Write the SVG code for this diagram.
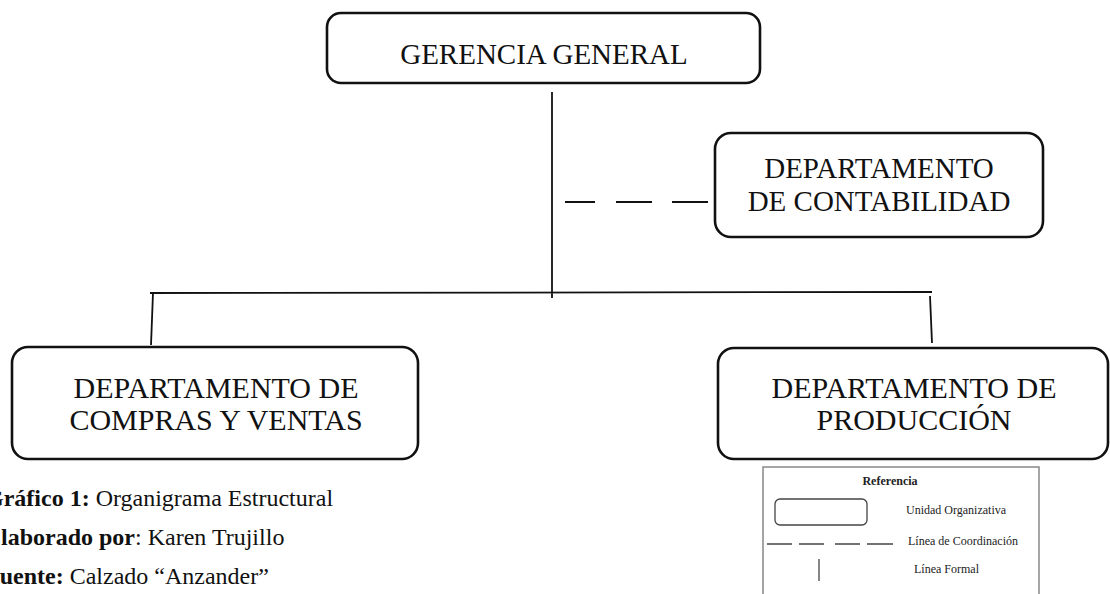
<svg xmlns="http://www.w3.org/2000/svg" width="1110" height="594" viewBox="0 0 1110 594">
<style>
.box{fill:#fff;stroke:#111;stroke-width:2.6}
.t{font-family:"Liberation Serif","Times New Roman",serif;font-size:29px;fill:#111;text-anchor:middle}
.t2{font-size:30px}
.ln{stroke:#111;stroke-width:1.8;fill:none}
.cap{font-family:"Liberation Serif","Times New Roman",serif;font-size:24px;fill:#111}
.lg{font-family:"Liberation Serif","Times New Roman",serif;font-size:12px;fill:#222}
.lgl{stroke:#444;stroke-width:1.3;fill:none}
</style>
<rect width="1110" height="594" fill="#fff"/>
<g id="connectors">
<path class="ln" d="M552 92 V298"/>
<path class="ln" d="M150 293 L932 292"/>
<path class="ln" d="M153 293 L151 345"/>
<path class="ln" d="M930 296 L932 343"/>
<path class="ln" d="M565 202 H595 M616 202 H652 M672 202 H708"/>
</g>
<g id="gerencia">
<rect class="box" x="327" y="13" width="433" height="70" rx="14"/>
<text class="t" x="544" y="64">GERENCIA GENERAL</text>
</g>
<g id="contabilidad">
<rect class="box" x="715" y="133" width="328" height="104" rx="16"/>
<text class="t" x="879" y="178">DEPARTAMENTO</text>
<text class="t" x="879" y="211">DE CONTABILIDAD</text>
</g>
<g id="compras">
<rect class="box" x="12" y="347" width="406" height="112" rx="16"/>
<text class="t t2" x="216" y="398">DEPARTAMENTO DE</text>
<text class="t t2" x="216" y="430">COMPRAS Y VENTAS</text>
</g>
<g id="produccion">
<rect class="box" x="718" y="348" width="390" height="111" rx="16"/>
<text class="t t2" x="914" y="398">DEPARTAMENTO DE</text>
<text class="t t2" x="914" y="430">PRODUCCIÓN</text>
</g>
<g id="caption">
<text class="cap" x="-15" y="506"><tspan font-weight="bold">Gráfico 1:</tspan> Organigrama Estructural</text>
<text class="cap" x="-15" y="545"><tspan font-weight="bold">Elaborado por</tspan>: Karen Trujillo</text>
<text class="cap" x="-15" y="584"><tspan font-weight="bold">Fuente:</tspan> Calzado “Anzander”</text>
</g>
<g id="legend">
<rect x="763" y="467" width="276" height="140" fill="#fff" stroke="#888" stroke-width="1.5"/>
<text class="lg" x="890" y="485" text-anchor="middle" font-weight="bold">Referencia</text>
<rect x="775" y="499" width="92" height="26" rx="5" fill="none" stroke="#444" stroke-width="1.3"/>
<text class="lg" x="906" y="514">Unidad Organizativa</text>
<path class="lgl" d="M767 544 H792 M799 544 H824 M835 544 H860 M867 544 H893"/>
<text class="lg" x="908" y="545">Línea de Coordinación</text>
<path class="lgl" d="M819 559 V581"/>
<text class="lg" x="914" y="573">Línea Formal</text>
</g>
</svg>
